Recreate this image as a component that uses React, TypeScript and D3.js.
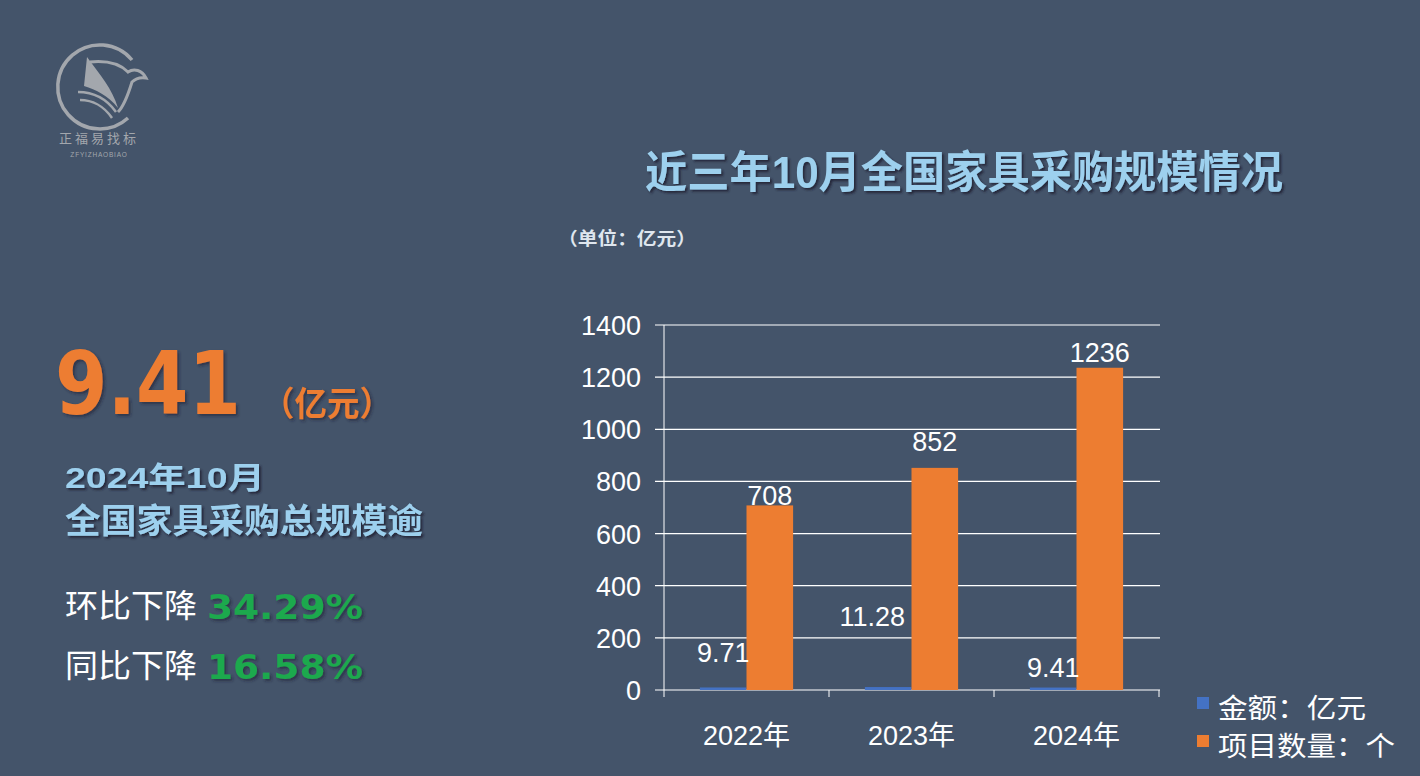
import React from "react";
import * as d3 from "d3";

const years = ["2022年", "2023年", "2024年"];
const amountValues = [9.71, 11.28, 9.41];
const countValues = [708, 852, 1236];
const seriesNames = ["金额：亿元", "项目数量：个"];
const yTicks = [0, 200, 400, 600, 800, 1000, 1200, 1400];

// label nudges (style only)
const amountLabelNudge: [number, number][] = [[0, -25], [-16, -61], [0, -11]];
const countLabelNudge: [number, number][] = [[0, 0], [0, -17], [0, -6]];

const BG = "#44546a";
const ORANGE = "#ed7d31";
const BLUE = "#4472c4";
const LIGHTBLUE = "#9dd0ee";
const GREEN = "#1ea94e";
const NUM_FONT = "'Liberation Sans', Arial, sans-serif";
const CJK_FONT = "'Liberation Sans', 'Noto Sans CJK SC', sans-serif";

export default function App() {
  const W = 1420, H = 776;
  const y = d3.scaleLinear().domain([0, 1400]).range([690, 325]);
  const x = d3.scaleBand<string>().domain(years).range([664, 1159]).paddingInner(0).paddingOuter(0);
  const xs = d3.scaleBand<string>().domain(["a", "c"]).range([0, x.bandwidth()]).paddingOuter(0.77).paddingInner(0);
  const bw = xs.bandwidth();

  return (
    <svg width={W} height={H} style={{ position: "absolute", left: 0, top: 0, display: "block" }}>
      <defs>
        <filter id="sh" x="-10%" y="-20%" width="130%" height="150%">
          <feDropShadow dx="2" dy="2" stdDeviation="1.2" floodColor="#1a2230" floodOpacity="0.85" />
        </filter>
        <filter id="sh2" x="-10%" y="-20%" width="130%" height="150%">
          <feDropShadow dx="2" dy="2" stdDeviation="1.5" floodColor="#1a2230" floodOpacity="0.6" />
        </filter>
      </defs>
      <rect x={0} y={0} width={W} height={H} fill={BG} />

      {/* logo */}
      <g fill="none" stroke="#a3a7ad">
        <path d="M 132 60 A 42 42 0 1 0 128 118" strokeWidth={3.5} />
        <path d="M 87 57 C 100 75, 112 88, 118 108 C 108 95, 96 90, 84 86" fill="#a3a7ad" stroke="none" />
        <path d="M 90 62 C 110 60, 122 66, 128 72 C 134 68, 142 70, 146 78 C 140 77, 136 78, 132 82 C 128 95, 122 108, 118 112" strokeWidth={3} />
        <path d="M 78 92 C 92 92, 106 98, 116 112" strokeWidth={2.5} />
        <path d="M 80 100 C 92 100, 104 106, 112 118" strokeWidth={2.5} />
      </g>
      <text x={99} y={143} textAnchor="middle" fontFamily="'Noto Sans CJK SC'" fontSize={13} fill="#a3a7ad" letterSpacing={3}>正福易找标</text>
      <text x={99} y={157} textAnchor="middle" fontFamily={NUM_FONT} fontSize={6.5} fill="#a3a7ad" letterSpacing={0.8}>ZFYIZHAOBIAO</text>

      {/* title */}
      <text x={645} y={188} fontFamily={CJK_FONT} fontWeight={700} fontSize={44} fill={LIGHTBLUE} filter="url(#sh)" textLength={638} lengthAdjust="spacingAndGlyphs">近三年10月全国家具采购规模情况</text>
      <text x={558} y={245} fontFamily="'Noto Sans CJK SC'" fontWeight={700} fontSize={18} fill="#dfe6ee" textLength={138} lengthAdjust="spacingAndGlyphs">（单位：亿元）</text>

      {/* left summary */}
      <text x={55} y={414} fontFamily="'DejaVu Sans', sans-serif" fontWeight={900} fontSize={88} fill={ORANGE} filter="url(#sh2)" textLength={186} lengthAdjust="spacingAndGlyphs">9.41</text>
      <text x={262} y={416} fontFamily="'Noto Sans CJK SC'" fontWeight={700} fontSize={34} fill={ORANGE} filter="url(#sh2)" textLength={130} lengthAdjust="spacingAndGlyphs">（亿元）</text>
      <text x={65} y={488} fontFamily={CJK_FONT} fontWeight={700} fontSize={30} fill={LIGHTBLUE} filter="url(#sh)" textLength={200} lengthAdjust="spacingAndGlyphs">2024年10月</text>
      <text x={65} y={533} fontFamily="'Noto Sans CJK SC'" fontWeight={700} fontSize={34} fill={LIGHTBLUE} filter="url(#sh)" textLength={358} lengthAdjust="spacingAndGlyphs">全国家具采购总规模逾</text>
      <text x={65} y={617} fontFamily="'Noto Sans CJK SC'" fontSize={32} fill="#ffffff" textLength={132} lengthAdjust="spacingAndGlyphs">环比下降</text>
      <text x={207} y={619} fontFamily="'DejaVu Sans', sans-serif" fontWeight={900} fontSize={34} fill={GREEN} filter="url(#sh2)" textLength={156} lengthAdjust="spacingAndGlyphs">34.29%</text>
      <text x={65} y={677} fontFamily="'Noto Sans CJK SC'" fontSize={32} fill="#ffffff" textLength={132} lengthAdjust="spacingAndGlyphs">同比下降</text>
      <text x={207} y={679} fontFamily="'DejaVu Sans', sans-serif" fontWeight={900} fontSize={34} fill={GREEN} filter="url(#sh2)" textLength={156} lengthAdjust="spacingAndGlyphs">16.58%</text>

      {/* gridlines & y ticks */}
      {yTicks.map((t) => (
        <g key={t}>
          <line x1={655} x2={1160} y1={y(t)} y2={y(t)} stroke="#ffffff" strokeWidth={1.2} />
          <text x={641} y={y(t) + 10} textAnchor="end" fontFamily={NUM_FONT} fontSize={27} fill="#ffffff">{t}</text>
        </g>
      ))}
      <line x1={664} x2={664} y1={325} y2={697} stroke="#ffffff" strokeWidth={1} />
      {years.map((yr) => (
        <line key={"t" + yr} x1={(x(yr) as number) + x.bandwidth()} x2={(x(yr) as number) + x.bandwidth()} y1={690} y2={697} stroke="#ffffff" strokeWidth={1} />
      ))}

      {/* bars */}
      {years.map((yr, i) => {
        const x0 = x(yr) as number;
        const xa = x0 + (xs("a") as number);
        const xc = x0 + (xs("c") as number);
        return (
          <g key={yr}>
            <rect x={xa} y={y(amountValues[i])} width={bw} height={690 - y(amountValues[i])} fill={BLUE} />
            <rect x={xc} y={y(countValues[i])} width={bw} height={690 - y(countValues[i])} fill={ORANGE} />
            <text x={xa + bw / 2 + amountLabelNudge[i][0]} y={y(amountValues[i]) + amountLabelNudge[i][1]} textAnchor="middle" fontFamily={NUM_FONT} fontSize={27} fill="#ffffff">{amountValues[i]}</text>
            <text x={xc + bw / 2 + countLabelNudge[i][0]} y={y(countValues[i]) + countLabelNudge[i][1]} textAnchor="middle" fontFamily={NUM_FONT} fontSize={27} fill="#ffffff">{countValues[i]}</text>
            <text x={x0 + x.bandwidth() / 2} y={745} textAnchor="middle" fontFamily={CJK_FONT} fontSize={27} fill="#ffffff">{yr}</text>
          </g>
        );
      })}

      {/* legend */}
      {seriesNames.map((s, i) => (
        <g key={s}>
          <rect x={1197} y={697 + i * 38} width={12} height={12} fill={i === 0 ? BLUE : ORANGE} />
          <text x={1218} y={718 + i * 38} fontFamily="'Noto Sans CJK SC'" fontSize={27} fill="#ffffff" textLength={i === 0 ? 148 : 177} lengthAdjust="spacingAndGlyphs">{s}</text>
        </g>
      ))}
    </svg>
  );
}
